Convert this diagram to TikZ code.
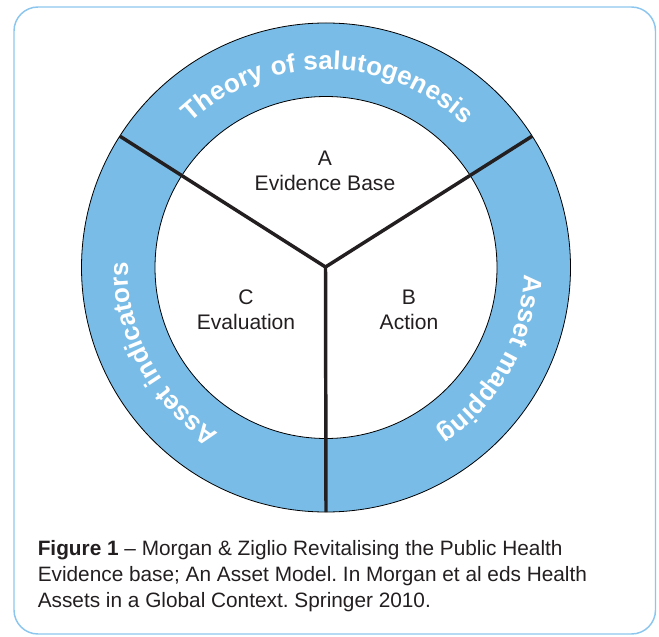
\documentclass[tikz,border=0pt]{standalone}
\usepackage{fontspec}
\setmainfont{Liberation Sans}
\frenchspacing
\usetikzlibrary{decorations.text,calc}
\definecolor{ringc}{RGB}{121,188,231}
\definecolor{framec}{RGB}{140,198,238}
\definecolor{txtc}{RGB}{35,31,32}
\newcommand\ringfont{\fontsize{19.5pt}{21pt}\selectfont\bfseries\color{white}}
\tikzset{
  spoke/.style={line width=2.6pt, draw=txtc},
  rim/.style={line width=0.6pt, draw=black},
  label/.style={font=\fontsize{15.8pt}{18.75pt}\selectfont, text=txtc, align=center, inner sep=0pt},
  ringtext/.style={decorate, decoration={text along path, text align=fit to path, text={|\ringfont|#1}}}
}
\begin{document}
\begin{tikzpicture}[x=0.75pt,y=0.75pt]
\useasboundingbox (0,0) rectangle (659,636);
\draw[framec, line width=1.1pt, rounded corners=18pt] (14,629) rectangle (655.5,2);
\coordinate (C) at (326,368.5);
\fill[ringc, even odd rule] (C) circle[radius=244.5] (C) circle[radius=171];
\draw[rim] (C) circle[radius=244.5];
\draw[rim] (C) circle[radius=171];
\coordinate (hub) at (325.5,369);
\coordinate (eL) at ($(C)+(147.5:244.5)$);
\coordinate (eR) at ($(C)+(32.5:244.5)$);
\coordinate (eB) at ($(C)+(270:244.5)$);
\draw[spoke] (eL) -- (hub) -- (eR);
\draw[spoke] (hub) -- (eB);
\path[ringtext={Theory of salutogenesis}] ($(C)+(133:198)$) arc[start angle=133, end angle=46, radius=198];
\path[ringtext={Asset mapping}] ($(C)+(-2:198)$) arc[start angle=-2, end angle=-56, radius=198];
\path[ringtext={Asset indicators}] ($(C)+(237:198)$) arc[start angle=237, end angle=178.8, radius=198];
\node[label, anchor=base] (labA) at (325,636-191) {A\\Evidence Base};
\node[label, anchor=base] (labB) at (409,636-329) {B\\Action};
\node[label, anchor=base] (labC) at (246,636-329) {C\\Evaluation};
\node[font=\fontsize{15.6pt}{19.5pt}\selectfont, text=txtc, align=left, inner sep=0pt, anchor=north west] (cap) at (37.5,636-540)
 {\textbf{Figure 1} – Morgan \& Ziglio Revitalising the Public Health\\
  Evidence base; An Asset Model. In Morgan et al eds Health\\
  Assets in a Global Context. Springer 2010.};
\end{tikzpicture}
\end{document}
